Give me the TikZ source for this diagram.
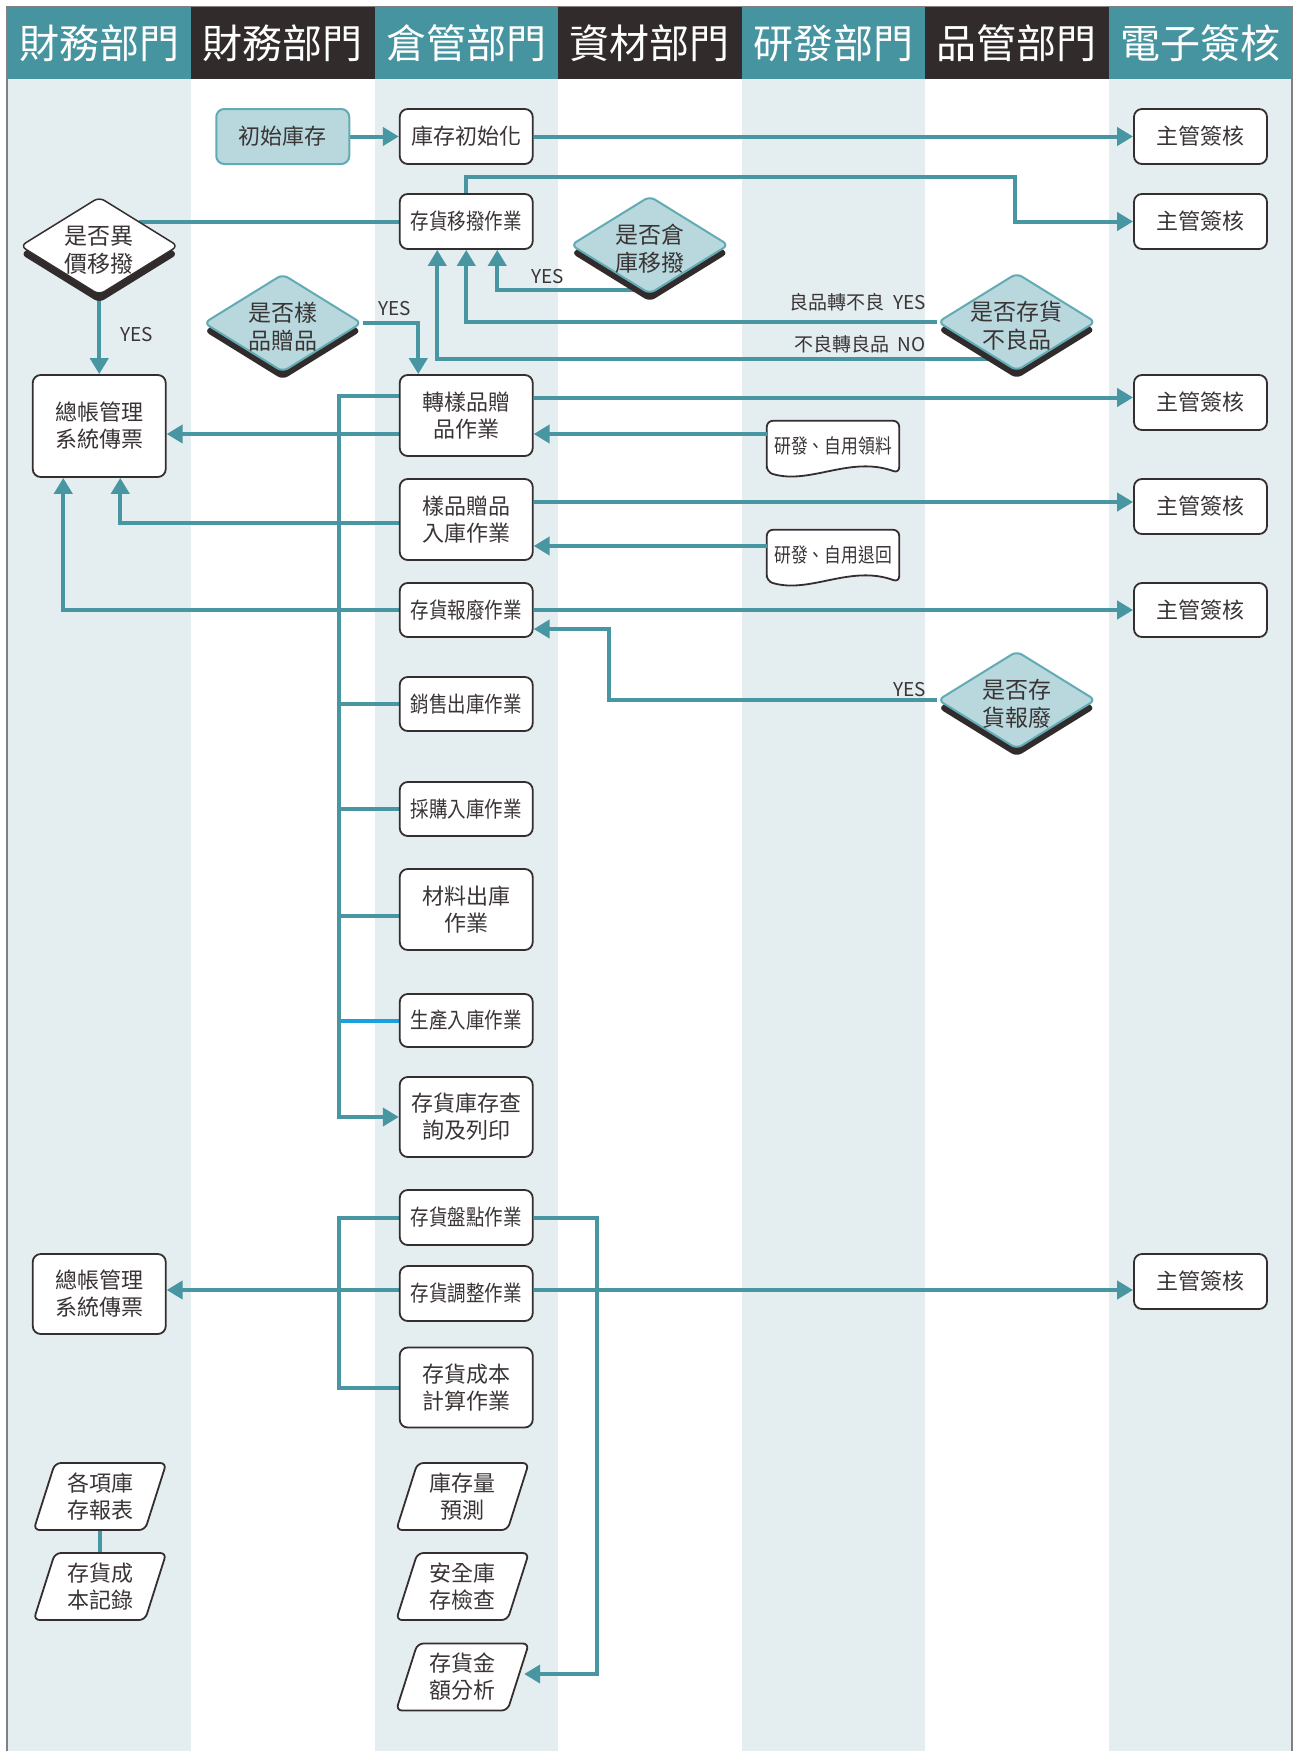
\documentclass[tikz,border=0pt]{standalone}
\usepackage{fontspec}
\setmainfont{Noto Sans CJK TC}
\newfontfamily\cjkcond[FakeStretch=0.84]{Noto Sans CJK TC}
\usetikzlibrary{shapes.geometric,arrows.meta,calc,shadows}
\pgfdeclarelayer{bg}
\pgfdeclarelayer{edges}
\pgfsetlayers{bg,edges,main}
\definecolor{hteal}{HTML}{4694A0}
\definecolor{hdark}{HTML}{322B2C}
\definecolor{lane}{HTML}{E4EEF1}
\definecolor{conn}{HTML}{4796A2}
\definecolor{dfill}{HTML}{B8D8DD}
\definecolor{dborder}{HTML}{62AAB4}
\definecolor{ink}{HTML}{3A3435}
\definecolor{bdr}{HTML}{352E2F}
\definecolor{bblue}{HTML}{1AA0DC}
\newcommand\ftbox{\fontsize{22pt}{27pt}\selectfont}
\newcommand\ftdia{\fontsize{23pt}{28pt}\selectfont}
\newcommand\ftcond{\cjkcond\fontsize{22pt}{27pt}\selectfont}
\newcommand\ftlab{\fontsize{19pt}{23pt}\selectfont}
\newcommand\ftdoc{\cjkcond\fontsize{20pt}{24pt}\selectfont}
\newcommand\fthead{\fontsize{40pt}{44pt}\selectfont}
\begin{document}
\begin{tikzpicture}[x=1pt,y=-1pt,
  box/.style={draw=bdr,line width=1.8pt,fill=white,rounded corners=8pt,minimum width=133pt,inner sep=1pt,align=center,text=ink,font=\ftbox},
  cbox/.style={box,font=\ftcond},
  dia/.style={diamond,draw=bdr,line width=1.5pt,fill=white,rounded corners=6pt,minimum width=158pt,minimum height=98pt,inner sep=0pt,drop shadow={shadow xshift=0pt,shadow yshift=-8pt,opacity=1,fill=hdark}},
  tdia/.style={dia,fill=dfill,draw=dborder,line width=2pt},
  dtext/.style={align=center,text=ink,font=\ftdia,inner sep=0pt},
  para/.style={trapezium,trapezium left angle=72,trapezium right angle=108,trapezium stretches=true,draw=bdr,line width=1.8pt,fill=white,rounded corners=6pt,minimum width=134pt,minimum height=67pt,inner sep=1pt,align=center,text=ink,font=\ftbox},
  docn/.style={minimum width=132pt,minimum height=50pt,inner sep=0pt,text=ink,font=\ftdoc},
  docshape/.style={fill=white,draw=bdr,line width=1.8pt,rounded corners=6pt},
  ln/.style={draw=conn,line width=4pt},
  arr/.style={ln,-{Triangle[length=16pt,width=18pt]}},
  lab/.style={font=\ftlab,text=ink,inner sep=0pt}]
\useasboundingbox (0,0) rectangle (1293,1751);
\begin{pgfonlayer}{bg}
  \fill[white] (0,0) rectangle (1293,1751);
  \foreach \i in {0,2,4,6} \fill[lane] ({7.5+183.5*\i},79) rectangle ++(183.5,1672);
  \foreach \i/\t/\c in {0/財務部門/hteal,1/財務部門/hdark,2/倉管部門/hteal,3/資材部門/hdark,4/研發部門/hteal,5/品管部門/hdark,6/電子簽核/hteal}{
    \fill[\c] ({7.5+183.5*\i},7) rectangle ++(183.5,72);
    \node[font=\fthead,text=white,inner sep=0pt] (h\i) at ({99.25+183.5*\i},43) {\t};
  }
  \draw[gray,line width=1.3pt] (7,1751) -- (7,6.5) -- (1292,6.5) -- (1292,1751);
\end{pgfonlayer}

% column 1
\node[dia] (d1) at (99.25,246) {};
\node[dtext] (d1t) at ($(d1)+(0,4)$) {是否異\\價移撥};
\node[box,minimum height=102pt] (gl1) at (99.25,426) {總帳管理\\系統傳票};
\node[box,minimum height=80pt] (gl2) at (99.25,1294) {總帳管理\\系統傳票};
\node[para] (r1) at (100,1496.5) {各項庫\\存報表};
\node[para] (r2) at (100,1586.5) {存貨成\\本記錄};
% column 2
\node[box,minimum height=55pt,fill=dfill,draw=dborder,line width=2pt] (init) at (282.75,136.5) {初始庫存};
\node[tdia] (d2) at (282.75,323) {};
\node[dtext] (d2t) at ($(d2)+(0,4)$) {是否樣\\品贈品};
% column 3
\node[box,minimum height=55pt] (b1) at (466.25,136.5) {庫存初始化};
\node[cbox,minimum height=55pt] (b2) at (466.25,221.5) {存貨移撥作業};
\node[box,minimum height=81pt] (b3) at (466.25,415.5) {轉樣品贈\\品作業};
\node[box,minimum height=81pt] (b4) at (466.25,519.5) {樣品贈品\\入庫作業};
\node[cbox,minimum height=54pt] (b5) at (466.25,610) {存貨報廢作業};
\node[cbox,minimum height=54pt] (b6) at (466.25,704) {銷售出庫作業};
\node[cbox,minimum height=54pt] (b7) at (466.25,809) {採購入庫作業};
\node[box,minimum height=81pt] (b8) at (466.25,909.5) {材料出庫\\作業};
\node[cbox,minimum height=53pt] (b9) at (466.25,1020.5) {生產入庫作業};
\node[box,minimum height=80pt] (b10) at (466.25,1117) {存貨庫存查\\詢及列印};
\node[cbox,minimum height=55pt] (b11) at (466.25,1217.5) {存貨盤點作業};
\node[cbox,minimum height=55pt] (b12) at (466.25,1293.5) {存貨調整作業};
\node[box,minimum height=80pt] (b13) at (466.25,1387.5) {存貨成本\\計算作業};
\node[para] (p1) at (462.5,1496.5) {庫存量\\預測};
\node[para] (p2) at (462.5,1586.5) {安全庫\\存檢查};
\node[para] (p3) at (462.5,1677) {存貨金\\額分析};
% column 4
\node[tdia] (d3) at (649.75,245) {};
\node[dtext] (d3t) at ($(d3)+(0,4)$) {是否倉\\庫移撥};
% column 5
\node[docn] (doc1) at (833,446) {研發、自用領料};
\node[docn] (doc2) at (833,555) {研發、自用退回};
% column 6
\node[tdia] (d4) at (1016.75,322) {};
\node[dtext] (d4t) at ($(d4)+(0,4)$) {是否存貨\\不良品};
\node[tdia] (d5) at (1016.75,700) {};
\node[dtext] (d5t) at ($(d5)+(0,4)$) {是否存\\貨報廢};
% column 7
\node[box,minimum height=55pt] (s1) at (1200.5,136.5) {主管簽核};
\node[box,minimum height=55pt] (s2) at (1200.5,221.5) {主管簽核};
\node[box,minimum height=55pt] (s3) at (1200.5,402.5) {主管簽核};
\node[box,minimum height=55pt] (s4) at (1200.5,506.5) {主管簽核};
\node[box,minimum height=54pt] (s5) at (1200.5,610) {主管簽核};
\node[box,minimum height=55pt] (s6) at (1200.5,1281.5) {主管簽核};

% labels
\node[lab] (yes1) at (137,335) {YES};
\node[lab] (yes2) at (395,309) {YES};
\node[lab] (yes3) at (548,277) {YES};
\node[lab,anchor=east] (lab4) at (926,302) {良品轉不良\ \ YES};
\node[lab,anchor=east] (lab5) at (926,344) {不良轉良品\ \ NO};
\node[lab,anchor=east] (yes6) at (926,690) {YES};

\begin{pgfonlayer}{edges}
  % document shapes
  \foreach \d in {doc1,doc2}{
    \filldraw[docshape] ($(\d.south west)+(0,1)$) -- (\d.north west) -- (\d.north east) -- ($(\d.south east)+(0,2)$)
      .. controls ($(\d.south east)+(-49,-16)$) and ($(\d.south west)+(43,14)$) .. ($(\d.south west)+(0,1)$) -- cycle;
  }
  \coordinate (tx) at (339,0);
  % connectors
  \draw[arr] (init.east) -- (b1.west);
  \draw[arr] (b1.east) -- (s1.west);
  \draw[arr] (b2.north) -- ++(0,-16) -| ($(s2.west)+(-118,0)$) -- (s2.west);
  \draw[ln] (b2.west) -- (b2.west -| d1.north east);
  \draw[arr] (d1.south) -- (gl1.north);
  \draw[arr] (d2.east) -| ($(b3.north)+(-48,0)$);
  \draw[arr] ($(d3.center)+(0,45)$) -| ($(b2.south)+(31,0)$);
  \draw[arr] (d4.west) -| (b2.south);
  \draw[arr] ($(d4.center)+(-25,37)$) -| ($(b2.south)+(-29,0)$);
  \coordinate (c3) at ($(b3.east)+(0,-18)$);
  \draw[arr] (c3) -- (c3 -| s3.west);
  \coordinate (c4) at ($(doc1.west)+(0,-12)$);
  \draw[arr] (c4) -- (c4 -| b3.east);
  \draw[arr] (c4 -| b3.west) -- (c4 -| gl1.east);
  \coordinate (t0) at ($(b3.west)+(0,-19.5)$);
  \draw[ln] (b6.west) -- (b6.west -| tx);
  \draw[ln] (b7.west) -- (b7.west -| tx);
  \coordinate (c8a) at ($(b8.west)+(0,6.5)$);
  \draw[ln] (c8a) -- (c8a -| tx);
  \draw[ln,draw=bblue] (b9.west) -- (b9.west -| tx);
  \draw[arr] (t0) -| (tx |- b10.west) -- (b10.west);
  \coordinate (c5) at ($(b4.east)+(0,-17.5)$);
  \draw[arr] (c5) -- (c5 -| s4.west);
  \coordinate (c6) at ($(doc2.west)+(0,-9)$);
  \draw[arr] (c6) -- (c6 -| b4.east);
  \coordinate (c7) at ($(b4.west)+(0,3.5)$);
  \draw[arr] (c7) -| ($(gl1.south)+(21,0)$);
  \draw[arr] (b5.west) -| ($(gl1.south)+(-36,0)$);
  \draw[arr] (b5.east) -- (s5.west);
  \draw[arr] (d5.west) -| ($(b5.east)+(75,19)$) -- ($(b5.east)+(0,19)$);
  \draw[ln] (b11.west) -| (tx |- b13.west) -- (b13.west);
  \coordinate (c9) at ($(b12.west)+(0,-3.5)$);
  \draw[arr] (c9) -- (c9 -| gl2.east);
  \draw[arr] (c9 -| b12.east) -- (c9 -| s6.west);
  \coordinate (c10) at ($(p3.east)+(5,-3)$);
  \draw[arr] (b11.east) -- ++(63,0) |- (c10);
  \draw[ln] (r1.south) -- (r2.north);
\end{pgfonlayer}
\end{tikzpicture}
\end{document}
